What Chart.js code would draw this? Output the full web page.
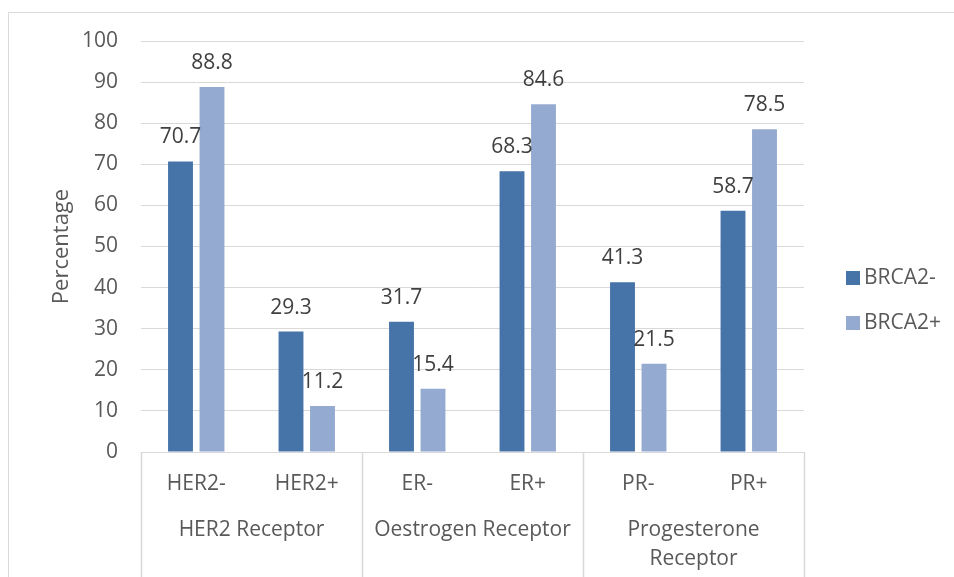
<!DOCTYPE html>
<html>
<head>
<meta charset="utf-8">
<script src="https://cdn.jsdelivr.net/npm/chart.js@4/dist/chart.umd.min.js"></script>
<style>
html,body{margin:0;padding:0;background:#fff;}
#wrap{width:954px;height:577px;position:relative;}
</style>
</head>
<body>
<div id="wrap"><canvas id="c" width="954" height="577"></canvas></div>
<script>
const categories = ["HER2-", "HER2+", "ER-", "ER+", "PR-", "PR+"];
const groups = [["HER2 Receptor"], ["Oestrogen Receptor"], ["Progesterone", "Receptor"]];
const groupSizes = [2, 2, 2];
const brca2Neg = [70.7, 29.3, 31.7, 68.3, 41.3, 58.7];
const brca2Pos = [88.8, 11.2, 15.4, 84.6, 21.5, 78.5];
const seriesNames = ["BRCA2-", "BRCA2+"];
const yTicks = [0, 10, 20, 30, 40, 50, 60, 70, 80, 90, 100];
const yTitle = "Percentage";

const FONT = "'Open Sans', 'Liberation Sans', sans-serif";
const DARK = "#4673a8";
const LIGHT = "#94aad1";
const GRID = "#d9d9d9";
const TXT = "#595959";

const overlay = {
  id: "overlay",
  afterDraw(chart) {
    const ctx = chart.ctx;
    const ca = chart.chartArea;
    const x = chart.scales.x;
    ctx.save();
    // outer border
    ctx.strokeStyle = GRID;
    ctx.lineWidth = 1;
    ctx.beginPath();
    ctx.moveTo(8.5, 600); ctx.lineTo(8.5, 12.5); ctx.lineTo(960, 12.5);
    ctx.stroke();
    // axis line
    ctx.beginPath();
    ctx.moveTo(ca.left, Math.round(ca.bottom) + 0.5);
    ctx.lineTo(ca.right, Math.round(ca.bottom) + 0.5);
    ctx.stroke();
    // group separators
    let idx = 0;
    const bounds = [0];
    groupSizes.forEach(s => { idx += s; bounds.push(idx); });
    ctx.lineWidth = 1.5;
    bounds.forEach(b => {
      const px = Math.round(x.getPixelForValue(b - 0.5)) + 0.5;
      ctx.beginPath();
      ctx.moveTo(px, ca.bottom);
      ctx.lineTo(px, 580);
      ctx.stroke();
    });
    // category labels
    ctx.fillStyle = TXT;
    ctx.font = "21px " + FONT;
    ctx.textAlign = "center";
    ctx.textBaseline = "middle";
    categories.forEach((c, i) => {
      ctx.fillText(c, x.getPixelForValue(i), ca.bottom + 32);
    });
    // group labels
    groups.forEach((g, gi) => {
      const mid = (x.getPixelForValue(bounds[gi] - 0.5) + x.getPixelForValue(bounds[gi + 1] - 0.5)) / 2;
      g.forEach((line, li) => {
        ctx.fillText(line, mid, ca.bottom + 78 + li * 29);
      });
    });
    // y title
    ctx.save();
    ctx.translate(62, (ca.top + ca.bottom) / 2);
    ctx.rotate(-Math.PI / 2);
    ctx.font = "22px " + FONT;
    ctx.fillText(yTitle, 0, 0);
    ctx.restore();
    // data labels
    ctx.fillStyle = "#404040";
    ctx.font = "21px " + FONT;
    chart.data.datasets.forEach((ds, di) => {
      const meta = chart.getDatasetMeta(di);
      meta.data.forEach((bar, i) => {
        ctx.fillText(ds.data[i].toFixed(1), bar.x, bar.y - 24);
      });
    });
    // legend
    const colors = [DARK, LIGHT];
    ctx.textAlign = "left";
    ctx.font = "21px " + FONT;
    seriesNames.forEach((n, i) => {
      const ly = 278 + i * 45;
      ctx.fillStyle = colors[i];
      ctx.fillRect(846, ly - 7, 14, 14);
      ctx.fillStyle = TXT;
      ctx.fillText(n, 864, ly);
    });
    ctx.restore();
  }
};

new Chart(document.getElementById("c"), {
  type: "bar",
  data: {
    labels: categories,
    datasets: [
      { label: seriesNames[0], data: brca2Neg, backgroundColor: DARK },
      { label: seriesNames[1], data: brca2Pos, backgroundColor: LIGHT }
    ]
  },
  options: {
    responsive: false,
    animation: false,
    devicePixelRatio: 1,
    layout: { padding: { left: 0, right: 150, top: 41, bottom: 125 } },
    plugins: { legend: { display: false }, tooltip: { enabled: false } },
    datasets: { bar: { categoryPercentage: 0.57, barPercentage: 0.79 } },
    scales: {
      x: { display: false },
      y: {
        min: 0, max: 100,
        afterFit(s) { s.width = 141; },
        afterBuildTicks(s) { s.ticks = yTicks.map(v => ({ value: v })); },
        border: { display: false },
        grid: { color: (c) => c.tick && c.tick.value === 0 ? "rgba(0,0,0,0)" : GRID, drawTicks: false, lineWidth: 1 },
        ticks: { color: TXT, padding: 23, font: { family: FONT, size: 21 } }
      }
    }
  },
  plugins: [overlay]
});
</script>
</body>
</html>
